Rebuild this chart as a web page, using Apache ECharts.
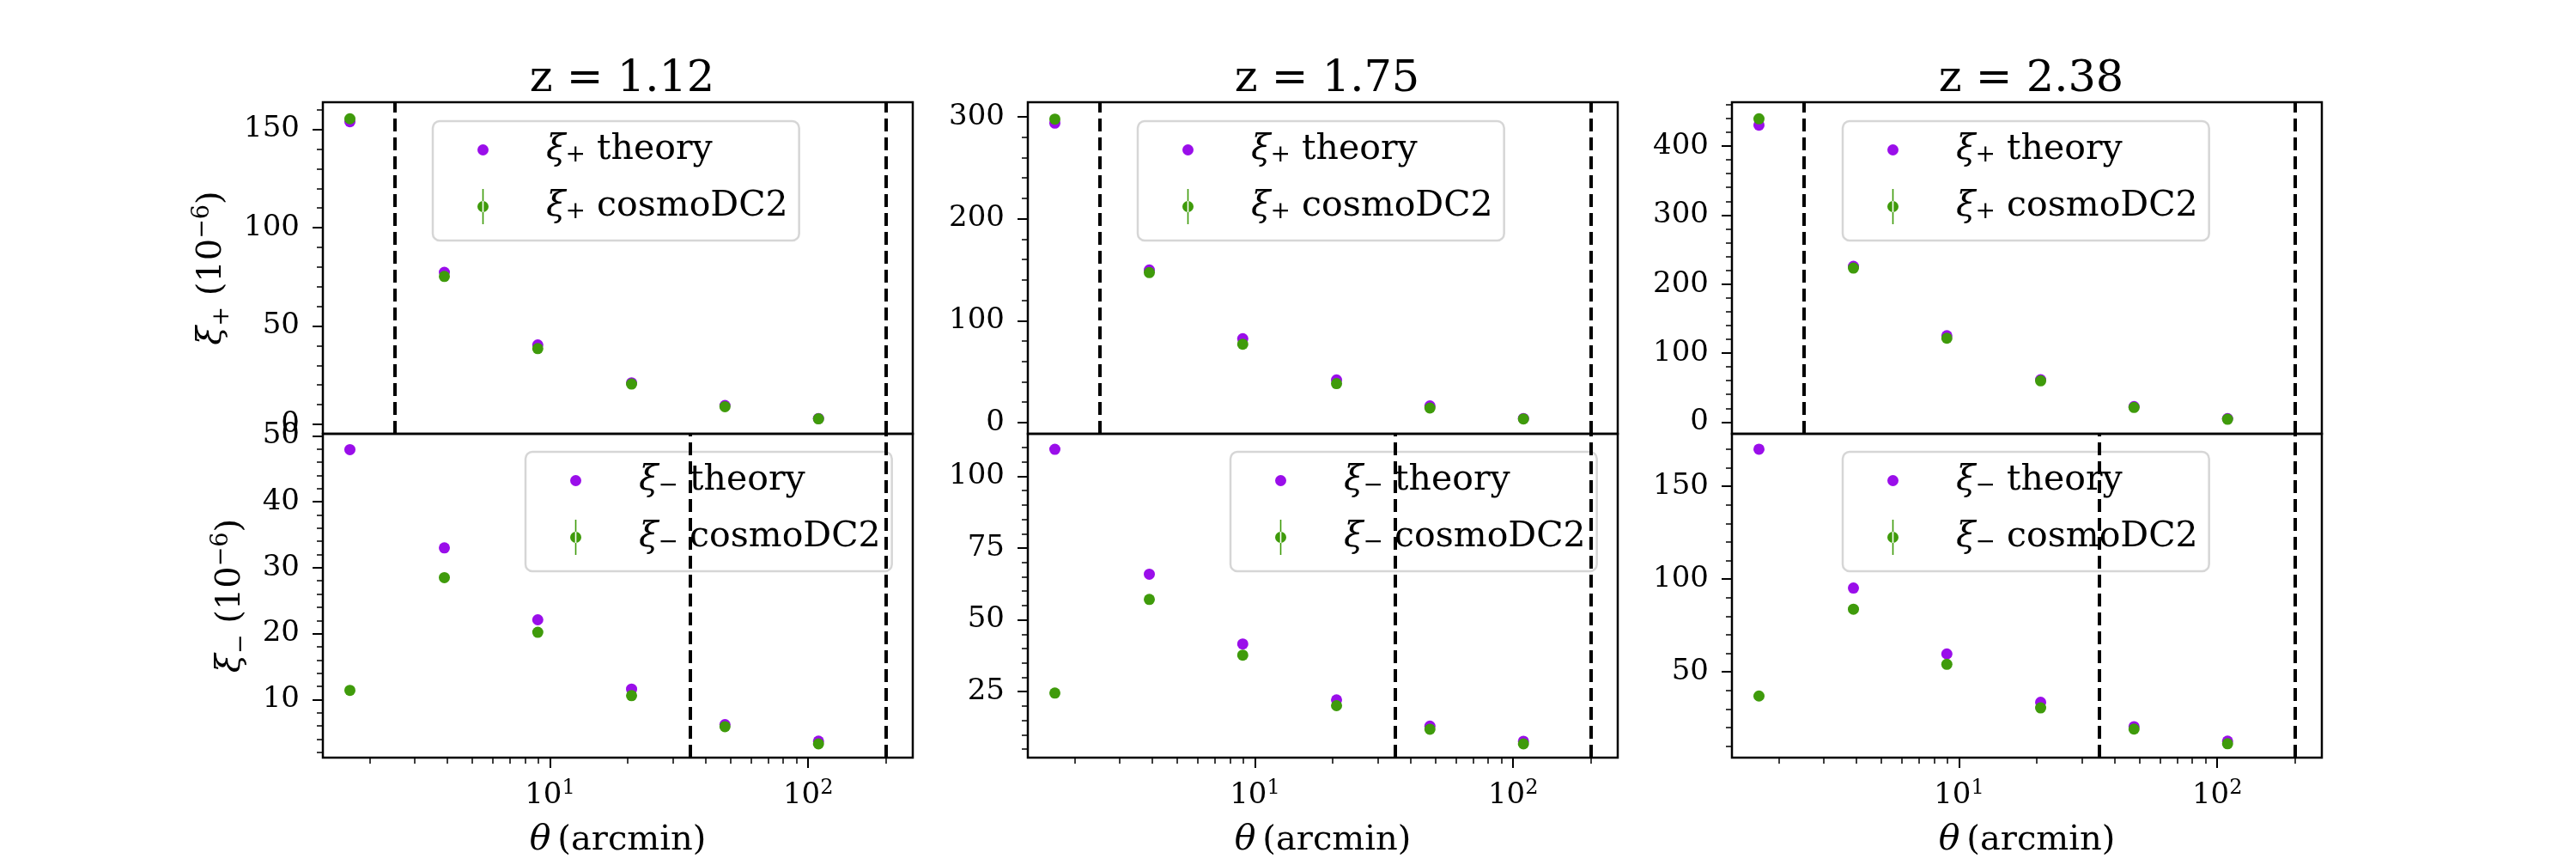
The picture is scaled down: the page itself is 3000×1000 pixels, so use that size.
<!DOCTYPE html>
<html>
<head>
<meta charset="utf-8">
<title>xi+ / xi- vs theta</title>
<script src="https://cdn.jsdelivr.net/npm/echarts@6/dist/echarts.min.js"></script>
<style>
  html, body { margin: 0; padding: 0; background: #fff; }
  #chart { width: 3000px; height: 1000px; }
</style>
</head>
<body>
<div id="chart"></div>
<script>
// values
var redshifts = ['1.12', '1.75', '2.38'];
var theta = [1.68, 3.90, 8.97, 20.7, 47.6, 109.6];

var xipTheory = [
  [153.9, 77.3, 40.4, 21.1, 9.6, 3.0],
  [293.8, 149.7, 82.3, 41.9, 16.3, 4.0],
  [430.3, 225.7, 125.2, 61.4, 22.4, 5.0]
];
var xipCosmo = [
  [155.4, 75.2, 38.5, 20.5, 9.0, 2.8],
  [297.7, 147.2, 76.9, 38.2, 14.3, 3.6],
  [439.5, 223.2, 121.5, 59.8, 21.2, 4.1]
];
var ximTheory = [
  [47.9, 33.0, 22.1, 11.6, 6.2, 3.7],
  [109.4, 65.9, 41.6, 22.1, 13.0, 7.7],
  [170.0, 95.2, 59.7, 33.6, 20.5, 12.7]
];
var ximCosmo = [
  [11.4, 28.5, 20.2, 10.6, 5.9, 3.3],
  [24.5, 57.1, 37.7, 20.1, 11.9, 6.8],
  [37.0, 83.8, 54.1, 30.6, 19.2, 11.3]
];

// scale cuts (dashed lines)
var xipCuts = [2.5, 200];
var ximCuts = [35, 200];

// axis limits and ticks
var thetaRange = [1.32, 254];
var xMajorTicks = [10, 100];
var xMinorTicks = [2, 3, 4, 5, 6, 7, 8, 9, 20, 30, 40, 50, 60, 70, 80, 90, 200];
var xipRange = [[-4.8, 163.8], [-11, 314.3], [-17, 463.5]];
var ximRange = [[1.2, 50.3], [2.0, 114.8], [3.8, 178.3]];
var xipTicks = [[0, 50, 100, 150], [0, 100, 200, 300], [0, 100, 200, 300, 400]];
var ximTicks = [[10, 20, 30, 40, 50], [25, 50, 75, 100], [50, 100, 150]];
var xipMinorStep = [10, 20, 20];
var ximMinorStep = [2, 5, 10];

var FONT = 'DejaVu Serif';
var PURPLE = '#9a0eea';
var GREEN = '#3f9b0b';

var gridLeft = [376, 1197, 2017];
var gridWidth = 687;
var rowTop = [119, 505];
var rowHeight = [386, 384];
var legendLeft = [[504, 1325, 2146], [612, 1433, 2146]];
var legendTop = [141, 526];

var errIcon = 'path://M5.7,0h1.6v41h-1.6z M0,20.5a6.5,6.5 0 1,0 13,0a6.5,6.5 0 1,0 -13,0z';

var legendText = {
  xip_th: '{g|ξ}{sb|+}{t| theory}',
  xip_dc: '{g|ξ}{sb|+}{t| cosmoDC2}',
  xim_th: '{g|ξ}{sb|−}{t| theory}',
  xim_dc: '{g|ξ}{sb|−}{t| cosmoDC2}'
};

function minorValues(range, step) {
  var out = [];
  for (var v = Math.ceil(range[0] / step) * step; v <= range[1]; v += step) {
    out.push(Math.round(v * 1000) / 1000);
  }
  return out;
}

function pairs(ys) {
  return theta.map(function (t, i) { return [t, ys[i]]; });
}

var grids = [], xAxes = [], yAxes = [], series = [], legends = [], titles = [];

for (var r = 0; r < 2; r++) {
  for (var c = 0; c < 3; c++) {
    var g = r * 3 + c;
    var bottom = r === 1;
    var yRange = bottom ? ximRange[c] : xipRange[c];
    var yTicks = bottom ? ximTicks[c] : xipTicks[c];

    grids.push({
      left: gridLeft[c], top: rowTop[r], width: gridWidth, height: rowHeight[r],
      show: true, borderColor: '#000', borderWidth: 2.5, backgroundColor: 'transparent'
    });

    // main log axis
    xAxes.push({
      type: 'log', logBase: 10, gridIndex: g, position: 'bottom',
      min: thetaRange[0], max: thetaRange[1],
      axisLine: { show: false },
      splitLine: { show: false },
      axisTick: { show: bottom, customValues: xMajorTicks, length: 12, lineStyle: { color: '#000', width: 2 } },
      axisLabel: {
        show: bottom, customValues: xMajorTicks, margin: 24, color: '#000',
        formatter: function (v) { return '{b|10}{s|' + Math.round(Math.log10(v)) + '}'; },
        rich: {
          b: { fontFamily: FONT, fontSize: 34, lineHeight: 40, color: '#000' },
          s: { fontFamily: FONT, fontSize: 24, lineHeight: 24, verticalAlign: 'top', color: '#000' }
        }
      },
      name: bottom ? '{i|θ}{t|\u2009(arcmin)}' : '',
      nameLocation: 'middle', nameGap: 76,
      nameTextStyle: {
        rich: {
          i: { fontFamily: FONT, fontStyle: 'italic', fontSize: 41, color: '#000' },
          t: { fontFamily: FONT, fontSize: 40, color: '#000' }
        }
      }
    });

    yAxes.push({
      type: 'value', gridIndex: g, position: 'left',
      min: yRange[0], max: yRange[1],
      axisLine: { show: false },
      splitLine: { show: false },
      axisTick: { show: true, customValues: yTicks, length: 12, lineStyle: { color: '#000', width: 2 } },
      axisLabel: { customValues: yTicks, margin: 27, color: '#000', fontFamily: FONT, fontSize: 34 },
      name: c === 0 ? (bottom ? '{g|ξ}{sb|−}{t| (10}{sp|−6}{t|)}' : '{g|ξ}{sb|+}{t| (10}{sp|−6}{t|)}') : '',
      nameLocation: 'middle', nameRotate: 90,
      nameGap: bottom ? 82 : 104,
      nameTextStyle: {
        rich: {
          g: { fontFamily: FONT, fontStyle: 'italic', fontSize: 40, lineHeight: 50, color: '#000' },
          t: { fontFamily: FONT, fontSize: 40, lineHeight: 50, color: '#000' },
          sb: { fontFamily: FONT, fontSize: 27, lineHeight: 26, verticalAlign: 'bottom', color: '#000' },
          sp: { fontFamily: FONT, fontSize: 27, lineHeight: 26, verticalAlign: 'top', color: '#000' }
        }
      }
    });

    var key = bottom ? 'xim' : 'xip';
    series.push({
      name: key + '_th', type: 'scatter', xAxisIndex: g, yAxisIndex: g,
      symbol: 'circle', symbolSize: 13, itemStyle: { color: PURPLE, opacity: 1 },
      data: pairs(bottom ? ximTheory[c] : xipTheory[c]), z: 3,
      markLine: {
        silent: true, symbol: 'none', label: { show: false },
        lineStyle: { color: '#000', width: 4, type: [15, 7] },
        data: (bottom ? ximCuts : xipCuts).map(function (x) { return { xAxis: x }; })
      }
    });
    series.push({
      name: key + '_dc', type: 'scatter', xAxisIndex: g, yAxisIndex: g,
      symbol: 'circle', symbolSize: 13, itemStyle: { color: GREEN, opacity: 1 },
      data: pairs(bottom ? ximCosmo[c] : xipCosmo[c]), z: 4
    });

    legends.push({
      data: [{ name: key + '_th', icon: 'circle' }, { name: key + '_dc', icon: errIcon }],
      left: legendLeft[r][c], top: legendTop[r], orient: 'vertical',
      itemWidth: 13, itemHeight: 41, itemGap: 25,
      padding: [13, 13, 19, 52],
      backgroundColor: 'rgba(255,255,255,0.8)', borderColor: '#d6d6d6', borderWidth: 2.5, borderRadius: 8,
      selectedMode: false,
      formatter: function (name) { return legendText[name]; },
      textStyle: {
        padding: [0, 0, 0, 62],
        rich: {
          g: { fontFamily: FONT, fontStyle: 'italic', fontSize: 41, lineHeight: 41, color: '#000' },
          t: { fontFamily: FONT, fontSize: 41, lineHeight: 41, color: '#000' },
          sb: { fontFamily: FONT, fontSize: 28, lineHeight: 22, verticalAlign: 'bottom', color: '#000' }
        }
      }
    });

    if (r === 0) {
      titles.push({
        text: 'z = ' + redshifts[c], left: gridLeft[c] + gridWidth / 2, top: 62, textAlign: 'center',
        textStyle: { fontFamily: FONT, fontSize: 51, fontWeight: 'normal', color: '#000' }
      });
    }
  }
}

// minor tick axes laid over the main ones
for (var g2 = 0; g2 < 6; g2++) {
  var isBottom = g2 >= 3;
  var cc = g2 % 3;
  var rg = isBottom ? ximRange[cc] : xipRange[cc];
  var st = isBottom ? ximMinorStep[cc] : xipMinorStep[cc];
  xAxes.push({
    type: 'log', logBase: 10, gridIndex: g2, position: 'bottom',
    min: thetaRange[0], max: thetaRange[1],
    axisLine: { show: false }, splitLine: { show: false }, axisLabel: { show: false },
    axisTick: { show: isBottom, customValues: xMinorTicks, length: 7, lineStyle: { color: '#000', width: 1.5 } }
  });
  yAxes.push({
    type: 'value', gridIndex: g2, position: 'left',
    min: rg[0], max: rg[1],
    axisLine: { show: false }, splitLine: { show: false }, axisLabel: { show: false },
    axisTick: { show: true, customValues: minorValues(rg, st), length: 7, lineStyle: { color: '#000', width: 1.5 } }
  });
}

var option = {
  animation: false,
  backgroundColor: '#fff',
  title: titles,
  grid: grids,
  xAxis: xAxes,
  yAxis: yAxes,
  legend: legends,
  series: series
};

echarts.init(document.getElementById('chart'), null, { renderer: 'canvas' }).setOption(option);
</script>
</body>
</html>
